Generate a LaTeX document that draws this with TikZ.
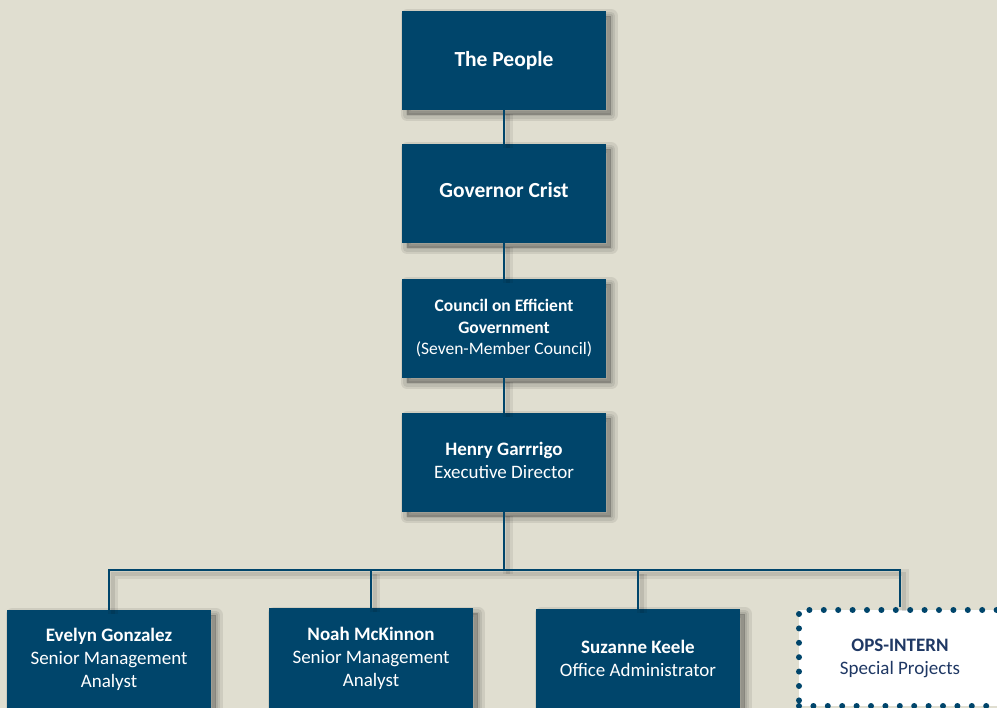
\documentclass[tikz,border=0pt]{standalone}
\usepackage{fontspec}
\setmainfont{Carlito}
\usetikzlibrary{positioning}
\definecolor{orgnavy} {RGB}{0, 69,107}
\definecolor{orgpaper}{RGB}{224,222,208}
\definecolor{orgink}  {RGB}{31, 56,100}
\tikzset{
  shade layer/.style={preaction={draw=black,fill=black,opacity=0.08,
                      line width=#1,line join=round,
                      transform canvas={shift={(5pt,-5pt)}}}},
  orgbox/.style={fill=orgnavy,minimum width=204pt,minimum height=99pt,
                 inner sep=0pt,align=center,text=white,
                 font=\fontsize{19}{23}\selectfont,
                 shade layer=13pt,shade layer=8pt,shade layer=3pt},
  orgbig/.style={orgbox,font=\fontsize{21.5}{26}\selectfont},
  orgsmall/.style={orgbox,font=\fontsize{17.5}{21.5}\selectfont},
  orgtemp/.style={fill=white,draw=orgnavy,line width=6pt,line cap=round,
                  dash pattern=on 0pt off 14.4pt,
                  minimum width=202pt,minimum height=96pt,
                  inner sep=0pt,align=center,text=orgink,
                  font=\fontsize{19}{23}\selectfont},
  link/.style={draw=orgnavy,line width=2.2pt,
               preaction={draw=black,opacity=0.07,line width=10pt,
                          transform canvas={shift={(4pt,-4pt)}}},
               preaction={draw=black,opacity=0.09,line width=4pt,
                          transform canvas={shift={(4pt,-4pt)}}}},
}
\begin{document}
\begin{tikzpicture}[x=1pt,y=-1pt]
  \clip (0,0) rectangle (997,708);
  \useasboundingbox (0,0) rectangle (997,708);
  \fill[orgpaper] (0,0) rectangle (997,708);

  % chain of command
  \node[orgbig](people)  at (504,60.5)  {\raisebox{2.5pt}{\textbf{The People}}};
  \node[orgbig](gov)     at (504,193.5) {\raisebox{6.5pt}{\textbf{Governor Crist}}};
  \node[orgsmall](council) at (504,328.5)
       {\textbf{Council on Efficient}\\\textbf{Government}\\(Seven-Member Council)};
  \node[orgbox](henry)   at (504,462.5)
       {\raisebox{4.5pt}{\shortstack{\textbf{Henry Garrrigo}\\[3pt]Executive Director}}};

  % staff
  \node[orgbox](evelyn)  at (109,659.5) {\textbf{Evelyn Gonzalez}\\Senior Management\\Analyst};
  \node[orgbox](noah)    at (371,658)   {\textbf{Noah McKinnon}\\Senior Management\\Analyst};
  \node[orgbox](suzanne) at (638,658.5) {\textbf{Suzanne Keele}\\Office Administrator};
  \node[orgtemp](ops)    at (900,658)   {\textbf{OPS-INTERN}\\Special Projects};

  \coordinate (bar) at (504,570);
  \draw[link](people) -- (gov);
  \draw[link](gov) -- (council);
  \draw[link](council) -- (henry);
  \draw[link](henry.south) -- (bar);
  \draw[link](evelyn.north) |- (bar) -| (ops.north);
  \draw[link](noah.north) -- (noah.north |- bar);
  \draw[link](suzanne.north) -- (suzanne.north |- bar);
\end{tikzpicture}
\end{document}
